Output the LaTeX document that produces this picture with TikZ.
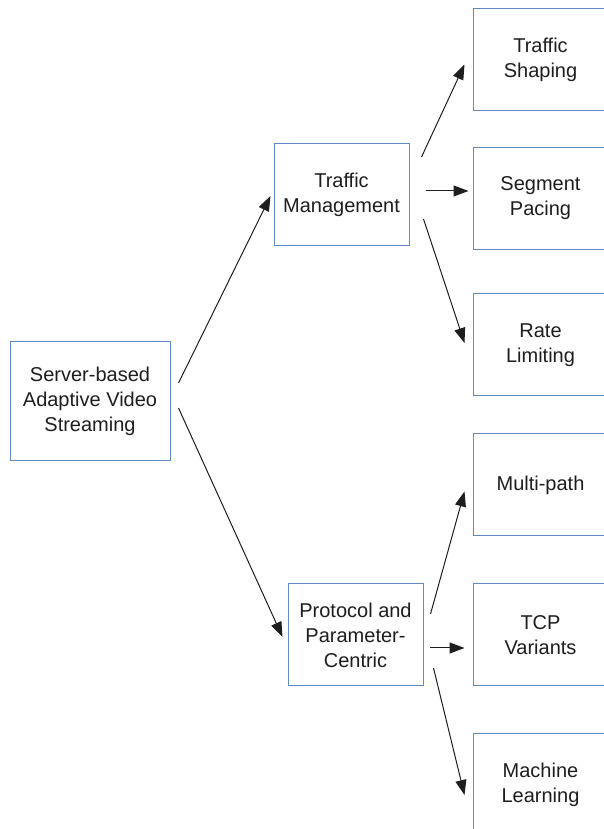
\documentclass[tikz,border=0pt]{standalone}
\usepackage{fontspec}
\setmainfont{Liberation Sans}
\usepackage{tikz}
\usetikzlibrary{arrows.meta,positioning,calc}
\definecolor{boxblue}{RGB}{95,137,196}
\definecolor{inkgray}{RGB}{30,30,30}

\begin{document}
\begin{tikzpicture}[
    x=1pt, y=1pt,
    node distance=40pt,
    rootbox/.style={rectangle, draw=boxblue, line width=1pt, fill=white, minimum width=160pt, minimum height=119pt, inner sep=0pt, align=center, text=inkgray, font=\fontsize{20}{25}\selectfont},
    midbox/.style={rootbox, minimum width=135pt, minimum height=102pt},
    leafbox/.style={midbox},
    arrow/.style={-{Triangle[length=15pt, width=11pt]}, line width=1pt, draw=inkgray}
]
    \useasboundingbox (0,0) rectangle (603,829);

    % Root
    \node[rootbox] (root) at (90,427.5) {Server-based\\Adaptive Video\\Streaming};

    % Second layer
    \node[midbox, above right=95pt and 103pt of root] (traffic) {Traffic\\Management};
    \node[midbox, below right=122pt and 117pt of root] (protocol) {Protocol and\\Parameter-\\Centric};

    % Leaves - traffic management
    \node[leafbox, above right=32pt and 63pt of traffic] (shaping) {Traffic\\Shaping};
    \node[leafbox, right=63pt of traffic, yshift=-3.5pt] (pacing) {Segment\\Pacing};
    \node[leafbox, below right=47pt and 63pt of traffic] (limiting) {Rate\\Limiting};

    % Leaves - protocol and parameter-centric
    \node[leafbox, above right=47pt and 49pt of protocol] (multipath) {Multi-path};
    \node[leafbox, right=49pt of protocol] (tcp) {TCP\\Variants};
    \node[leafbox, below right=47pt and 49pt of protocol] (learning) {Machine\\Learning};

    % Connections
    \draw[arrow] ($(root.east)+(8,18.5)$) -- ($(traffic.west)+(-3,-1)$);
    \draw[arrow] ($(root.east)+(8,-6.5)$) -- ($(protocol.west)+(-5,-2)$);

    \draw[arrow] ($(traffic.east)+(12,38)$) -- ($(shaping.west)+(-8,-4.5)$);
    \draw[arrow] ($(traffic.east)+(16,4)$) -- ($(pacing.west)+(-4,7.5)$);
    \draw[arrow] ($(traffic.east)+(14,-24)$) -- ($(limiting.west)+(-8,2)$);

    \draw[arrow] ($(protocol.east)+(7,21)$) -- ($(multipath.west)+(-8,-6.5)$);
    \draw[arrow] ($(protocol.east)+(6,-13)$) -- ($(tcp.west)+(-8,-13)$);
    \draw[arrow] ($(protocol.east)+(10,-33)$) -- ($(learning.west)+(-8,-10)$);
\end{tikzpicture}
\end{document}
